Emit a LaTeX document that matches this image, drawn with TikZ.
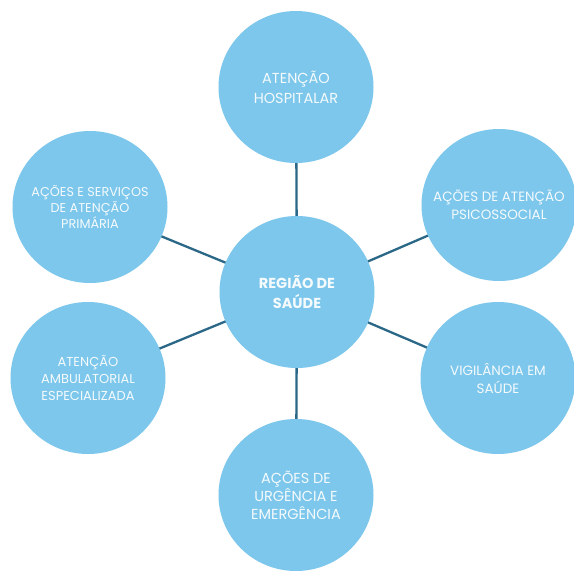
\documentclass[tikz,border=0pt]{standalone}
\usepackage{fontspec}
\setmainfont{Poppins}
\usetikzlibrary{shapes.geometric,backgrounds}
\definecolor{bubblefill}{HTML}{7CC7EB}
\definecolor{linkline}{HTML}{2B6887}
\begin{document}
\begin{tikzpicture}[x=1pt,y=-1pt,
  bubble/.style={ellipse, fill=bubblefill, inner sep=0pt,
    minimum width=155pt, minimum height=152pt},
  caption/.style={text=white!92!bubblefill, align=center, inner sep=0pt},
  linkstyle/.style={draw=linkline, line width=2.3pt}]
  % page
  \begin{scope}[on background layer]
    \fill[white] (0,0) rectangle (574,571);
  \end{scope}
  \useasboundingbox (0,0) rectangle (574,571);

  % central node
  \node[bubble, label={[caption, font=\fontsize{14.5}{20}\selectfont\bfseries]center:REGIÃO DE\\SAÚDE}]
    (hub) at (297,292) {};

  % surrounding nodes
  \node[bubble, label={[caption, font=\fontsize{14.5}{20}\selectfont]center:ATENÇÃO\\HOSPITALAR}]
    (hosp) at (296,87) {};
  \node[bubble, label={[caption, font=\fontsize{12.8}{16}\selectfont]center:AÇÕES E SERVIÇOS\\DE ATENÇÃO\\PRIMÁRIA}]
    (prim) at (90,207) {};
  \node[bubble, label={[caption, font=\fontsize{13.5}{18}\selectfont]center:AÇÕES DE ATENÇÃO\\PSICOSSOCIAL}]
    (psic) at (499,205) {};
  \node[bubble, label={[caption, font=\fontsize{13}{17}\selectfont]center:ATENÇÃO\\AMBULATORIAL\\ESPECIALIZADA}]
    (ambu) at (88,378) {};
  \node[bubble, label={[caption, font=\fontsize{13.5}{18}\selectfont]center:VIGILÂNCIA EM\\SAÚDE}]
    (vigi) at (498,378) {};
  \node[bubble, label={[caption, font=\fontsize{14.5}{18}\selectfont]center:AÇÕES DE\\URGÊNCIA E\\EMERGÊNCIA}]
    (urge) at (296,495) {};

  % connectors, behind the bubbles
  \begin{scope}[on background layer]
    \foreach \n in {hosp,prim,psic,ambu,vigi,urge}
      \draw[linkstyle] (hub.center) -- (\n.center);
  \end{scope}
\end{tikzpicture}
\end{document}
